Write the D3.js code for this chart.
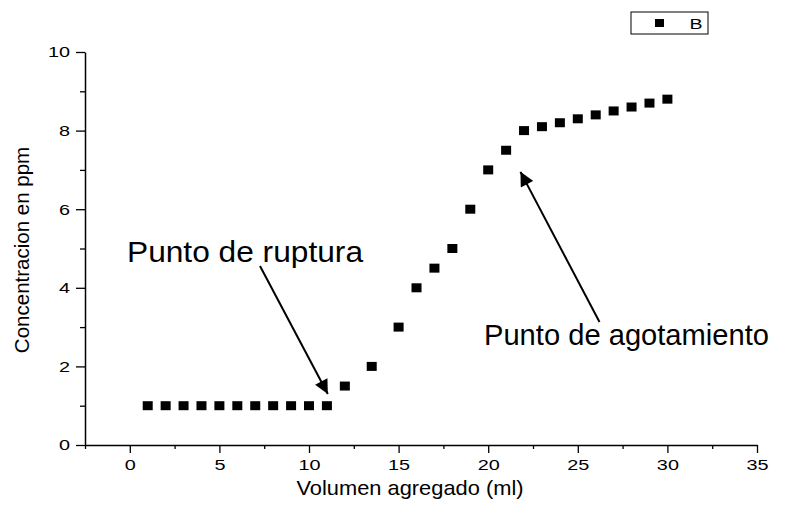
<!DOCTYPE html>
<html>
<head>
<meta charset="utf-8">
<script src="https://cdn.jsdelivr.net/npm/d3@7"></script>
<style>
  html, body { margin: 0; padding: 0; background: #fff; }
  svg { display: block; font-family: "Liberation Sans", Arial, sans-serif; }
</style>
</head>
<body>
<svg id="chart" width="799" height="507"></svg>
<script>
// ---- data ----
const volumen = [1, 2, 3, 4, 5, 6, 7, 8, 9, 10, 11, 12, 13.5, 15, 16, 17, 18, 19, 20, 21, 22, 23, 24, 25, 26, 27, 28, 29, 30];
const concentracion = [1, 1, 1, 1, 1, 1, 1, 1, 1, 1, 1, 1.5, 2, 3, 4, 4.5, 5, 6, 7, 7.5, 8, 8.1, 8.2, 8.3, 8.4, 8.5, 8.6, 8.7, 8.8];
const xTicks = [0, 5, 10, 15, 20, 25, 30, 35];
const yTicks = [0, 2, 4, 6, 8, 10];
const seriesName = "B";
const xTitle = "Volumen agregado (ml)";
const yTitle = "Concentracion en ppm";
const annotations = [
  { text: "Punto de ruptura", x: 11.05, y: 1.3 },
  { text: "Punto de agotamiento", x: 21.8, y: 6.95 }
];

const svg = d3.select("#chart");
const x = d3.scaleLinear().domain([-2.5, 35]).range([85, 757]);
const y = d3.scaleLinear().domain([0, 10]).range([445, 52]);

function stretch(sel, f) {
  sel.each(function () {
    const L = this.getComputedTextLength();
    this.setAttribute("textLength", L * f);
    this.setAttribute("lengthAdjust", "spacingAndGlyphs");
  });
}

// ---- x axis ----
const xMinor = d3.range(-2.5, 35, 5);
svg.append("g").attr("transform", "translate(0,445)")
  .call(d3.axisBottom(x).tickValues(xMinor).tickSize(4).tickSizeOuter(0).tickFormat(""))
  .call(g => g.select(".domain").remove())
  .call(g => g.selectAll("line").attr("stroke", "#000").attr("stroke-width", 1.3));
const gx = svg.append("g").attr("transform", "translate(0,445)")
  .call(d3.axisBottom(x).tickValues(xTicks).tickSize(8).tickPadding(6).tickSizeOuter(0));
gx.select(".domain").attr("stroke", "#000").attr("stroke-width", 1.5);
gx.selectAll("line").attr("stroke", "#000").attr("stroke-width", 1.3);
gx.selectAll("text").attr("fill", "#000").attr("font-size", 15.5)
  .attr("font-family", "Liberation Sans, Arial, sans-serif").call(stretch, 1.28);

// ---- y axis ----
const yMinor = d3.range(1, 10, 2);
svg.append("g").attr("transform", "translate(85,0)")
  .call(d3.axisLeft(y).tickValues(yMinor).tickSize(5).tickSizeOuter(0).tickFormat(""))
  .call(g => g.select(".domain").remove())
  .call(g => g.selectAll("line").attr("stroke", "#000").attr("stroke-width", 1.3));
const gy = svg.append("g").attr("transform", "translate(85,0)")
  .call(d3.axisLeft(y).tickValues(yTicks).tickSize(9).tickPadding(6).tickSizeOuter(0));
gy.select(".domain").attr("stroke", "#000").attr("stroke-width", 1.5);
gy.selectAll("line").attr("stroke", "#000").attr("stroke-width", 1.3);
gy.selectAll("text").attr("fill", "#000").attr("font-size", 15.5)
  .attr("font-family", "Liberation Sans, Arial, sans-serif").call(stretch, 1.28);

// ---- titles ----
svg.append("text").attr("x", 410).attr("y", 495).attr("text-anchor", "middle")
  .attr("font-size", 21).attr("fill", "#000").text(xTitle).call(stretch, 1.04);
svg.append("text").attr("transform", "translate(28.5,250) rotate(-90)")
  .attr("text-anchor", "middle").attr("font-size", 20.5).attr("fill", "#000").text(yTitle);

// ---- points ----
const pts = volumen.map((v, i) => ({ x: v, y: concentracion[i] }));
svg.append("g").selectAll("rect").data(pts).join("rect")
  .attr("x", d => x(d.x) - 5).attr("y", d => y(d.y) - 4.5)
  .attr("width", 10).attr("height", 9).attr("fill", "#000");

// ---- legend ----
svg.append("rect").attr("x", 631).attr("y", 12).attr("width", 77).attr("height", 22)
  .attr("fill", "#fff").attr("stroke", "#000").attr("stroke-width", 1);
svg.append("rect").attr("x", 655).attr("y", 19).attr("width", 9).attr("height", 8).attr("fill", "#000");
svg.append("text").attr("x", 689.5).attr("y", 28.5).attr("font-size", 14).attr("fill", "#000")
  .text(seriesName).call(stretch, 1.4);

// ---- annotations ----
const defs = svg.append("defs");
defs.append("marker").attr("id", "ah").attr("viewBox", "0 0 10 10")
  .attr("refX", 10).attr("refY", 5).attr("markerWidth", 8).attr("markerHeight", 7)
  .attr("markerUnits", "strokeWidth").attr("orient", "auto")
  .append("path").attr("d", "M0,0 L10,5 L0,10 Z").attr("fill", "#000");

svg.append("text").attr("x", 127).attr("y", 262).attr("font-size", 29).attr("fill", "#000")
  .text(annotations[0].text).attr("textLength", 236).attr("lengthAdjust", "spacingAndGlyphs");
svg.append("line").attr("x1", 260).attr("y1", 266)
  .attr("x2", x(annotations[0].x)).attr("y2", y(annotations[0].y))
  .attr("stroke", "#000").attr("stroke-width", 2).attr("marker-end", "url(#ah)");

svg.append("text").attr("x", 484).attr("y", 345).attr("font-size", 29).attr("fill", "#000")
  .text(annotations[1].text).attr("textLength", 285).attr("lengthAdjust", "spacingAndGlyphs");
svg.append("line").attr("x1", 599.5).attr("y1", 322)
  .attr("x2", x(annotations[1].x)).attr("y2", y(annotations[1].y))
  .attr("stroke", "#000").attr("stroke-width", 2).attr("marker-end", "url(#ah)");
</script>
</body>
</html>
